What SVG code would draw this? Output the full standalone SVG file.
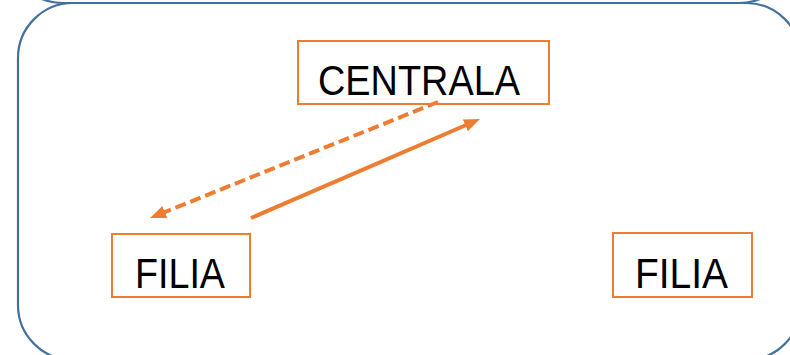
<svg xmlns="http://www.w3.org/2000/svg" width="790" height="355" viewBox="0 0 790 355">
<style>
.frame{fill:none;stroke:#41719C;stroke-width:2.2}
.box{fill:#FFFFFF;stroke:#ED7D31;stroke-width:2}
.lbl{font-family:"Liberation Sans",Arial,sans-serif;font-size:42px;fill:#000000}
.conn{fill:none;stroke:#ED7D31;stroke-width:4}
.dash{stroke-dasharray:11 5}
</style>
<defs>
<marker id="ah" markerUnits="userSpaceOnUse" markerWidth="18" markerHeight="14" refX="6" refY="6.5" orient="auto">
<path d="M0,0 L16,6.5 L0,13 Z" fill="#ED7D31"/>
</marker>
</defs>
<rect width="790" height="355" fill="#FFFFFF"/>
<g id="background">
<rect class="frame" x="8" y="-300" width="786" height="303" rx="55" ry="55"/>
<rect class="frame" x="18" y="3" width="783" height="357" rx="55" ry="55"/>
</g>
<g id="centrala">
<rect class="box" x="298" y="41" width="251" height="63"/>
<text class="lbl" x="318" y="95" textLength="202" lengthAdjust="spacingAndGlyphs">CENTRALA</text>
</g>
<g id="filia-left">
<rect class="box" x="112" y="234" width="138" height="63"/>
<text class="lbl" x="135" y="288" textLength="90" lengthAdjust="spacingAndGlyphs">FILIA</text>
</g>
<g id="filia-right">
<rect class="box" x="613" y="233" width="139" height="64"/>
<text class="lbl" x="635" y="288" textLength="93" lengthAdjust="spacingAndGlyphs">FILIA</text>
</g>
<g id="connectors">
<line class="conn dash" x1="438" y1="102" x2="159.3" y2="214.3" marker-end="url(#ah)"/>
<line class="conn" x1="251" y1="218" x2="470.8" y2="123" marker-end="url(#ah)"/>
</g>
</svg>
